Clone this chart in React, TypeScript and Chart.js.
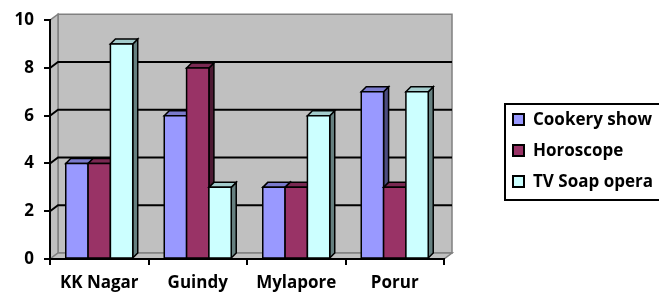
import React, { useEffect, useRef } from "react";
import { Chart, registerables } from "chart.js";

Chart.register(...registerables);

const categories = ["KK Nagar", "Guindy", "Mylapore", "Porur"];
const seriesNames = ["Cookery show", "Horoscope", "TV Soap opera"];
const cookeryShow = [4, 6, 3, 7];
const horoscope = [4, 8, 3, 3];
const tvSoapOpera = [9, 3, 6, 7];
const yTicks = [0, 2, 4, 6, 8, 10];

const frontColors = ["#9999FF", "#993366", "#CCFFFF"];
const topColors = ["#7A7ACC", "#7A2952", "#A3CCCC"];
const sideColors = ["#4D4D80", "#4D1A33", "#668080"];

const FONT = "'Open Sans', sans-serif";
const WALL_DX = 8;
const WALL_DY = -6;
const BAR_D = 5;

const threeD = {
  id: "threeD",
  beforeDraw(chart: any) {
    const { ctx, chartArea } = chart;
    const L = chartArea.left, R = chartArea.right, T = chartArea.top, B = chartArea.bottom;
    const y = chart.scales.y;
    ctx.save();
    ctx.fillStyle = "#C0C0C0";
    ctx.strokeStyle = "#808080";
    ctx.lineWidth = 1.5;
    ctx.beginPath();
    ctx.rect(L + WALL_DX, T + WALL_DY, R - L, B - T);
    ctx.fill();
    ctx.stroke();
    ctx.beginPath();
    ctx.moveTo(L, T);
    ctx.lineTo(L + WALL_DX, T + WALL_DY);
    ctx.lineTo(L + WALL_DX, B + WALL_DY);
    ctx.lineTo(L, B);
    ctx.closePath();
    ctx.fill();
    ctx.stroke();
    ctx.beginPath();
    ctx.moveTo(L, B);
    ctx.lineTo(R, B);
    ctx.lineTo(R + WALL_DX, B + WALL_DY);
    ctx.lineTo(L + WALL_DX, B + WALL_DY);
    ctx.closePath();
    ctx.fill();
    ctx.stroke();
    ctx.strokeStyle = "#000000";
    ctx.lineWidth = 2;
    yTicks.forEach((v) => {
      if (v === 0 || v === 10) return;
      const py = y.getPixelForValue(v);
      ctx.beginPath();
      ctx.moveTo(L, py);
      ctx.lineTo(L + WALL_DX, py + WALL_DY);
      ctx.lineTo(R + WALL_DX, py + WALL_DY);
      ctx.stroke();
    });
    ctx.restore();
  },
  afterDatasetsDraw(chart: any) {
    const { ctx } = chart;
    ctx.save();
    ctx.lineWidth = 1.5;
    ctx.strokeStyle = "#000000";
    ctx.lineJoin = "miter";
    const n = categories.length;
    for (let j = 0; j < n; j++) {
      for (let i = 0; i < chart.data.datasets.length; i++) {
        const el: any = chart.getDatasetMeta(i).data[j];
        const w = el.width;
        const x0 = el.x - w / 2;
        const x1 = el.x + w / 2;
        const top = el.y;
        const base = el.base;
        ctx.fillStyle = sideColors[i];
        ctx.beginPath();
        ctx.moveTo(x1, top);
        ctx.lineTo(x1 + BAR_D, top - BAR_D);
        ctx.lineTo(x1 + BAR_D, base - BAR_D);
        ctx.lineTo(x1, base);
        ctx.closePath();
        ctx.fill();
        ctx.stroke();
        ctx.fillStyle = topColors[i];
        ctx.beginPath();
        ctx.moveTo(x0, top);
        ctx.lineTo(x0 + BAR_D, top - BAR_D);
        ctx.lineTo(x1 + BAR_D, top - BAR_D);
        ctx.lineTo(x1, top);
        ctx.closePath();
        ctx.fill();
        ctx.stroke();
        ctx.fillStyle = frontColors[i];
        ctx.beginPath();
        ctx.rect(x0, top, w, base - top);
        ctx.fill();
        ctx.stroke();
      }
    }
    ctx.restore();
  },
  afterDraw(chart: any) {
    const { ctx } = chart;
    ctx.save();
    ctx.strokeStyle = "#000000";
    ctx.lineWidth = 2;
    ctx.strokeRect(505, 104, 180, 96);
    ctx.font = `bold 17px ${FONT}`;
    ctx.textBaseline = "middle";
    ctx.textAlign = "left";
    const rows = [120, 151, 182];
    seriesNames.forEach((name, i) => {
      ctx.fillStyle = frontColors[i];
      ctx.fillRect(513, rows[i] - 6, 11, 11);
      ctx.lineWidth = 2;
      ctx.strokeRect(513, rows[i] - 6, 11, 11);
      ctx.fillStyle = "#000000";
      ctx.fillText(name, 533, rows[i]);
    });
    ctx.restore();
  },
};

export default function App() {
  const ref = useRef<HTMLCanvasElement>(null);
  useEffect(() => {
    if (!ref.current) return;
    const data = [cookeryShow, horoscope, tvSoapOpera];
    const chart = new Chart(ref.current, {
      type: "bar",
      data: {
        labels: categories,
        datasets: seriesNames.map((name, i) => ({
          label: name,
          data: data[i],
          backgroundColor: "rgba(0,0,0,0)",
          borderWidth: 0,
          categoryPercentage: 0.68,
          barPercentage: 1,
        })),
      },
      options: {
        animation: false,
        responsive: false,
        devicePixelRatio: 1,
        layout: { padding: { left: 0, right: 215, top: 19, bottom: 0 } },
        plugins: { legend: { display: false }, tooltip: { enabled: false } },
        scales: {
          x: {
            offset: true,
            grid: {
              offset: true,
              drawOnChartArea: false,
              drawTicks: true,
              tickLength: 6,
              color: "#000000",
              lineWidth: 2,
            },
            border: { display: true, color: "#000000", width: 2 },
            ticks: {
              color: "#000000",
              font: { family: FONT, size: 17, weight: "bold" },
              padding: 8,
            },
            afterFit(scale: any) {
              scale.height = 39;
            },
          },
          y: {
            min: 0,
            max: 10,
            afterBuildTicks(scale: any) {
              scale.ticks = yTicks.map((v) => ({ value: v }));
            },
            grid: {
              drawOnChartArea: false,
              drawTicks: true,
              tickLength: 6,
              color: "#000000",
              lineWidth: 2,
            },
            border: { display: true, color: "#000000", width: 2 },
            ticks: {
              color: "#000000",
              font: { family: FONT, size: 17, weight: "bold" },
              padding: 10,
            },
            afterFit(scale: any) {
              scale.width = 50;
            },
          },
        },
      },
      plugins: [threeD],
    });
    return () => chart.destroy();
  }, []);
  return (
    <div style={{ position: "absolute", left: 0, top: 0, width: 659, height: 298, background: "#ffffff" }}>
      <canvas ref={ref} width={659} height={298} style={{ display: "block" }} />
    </div>
  );
}
